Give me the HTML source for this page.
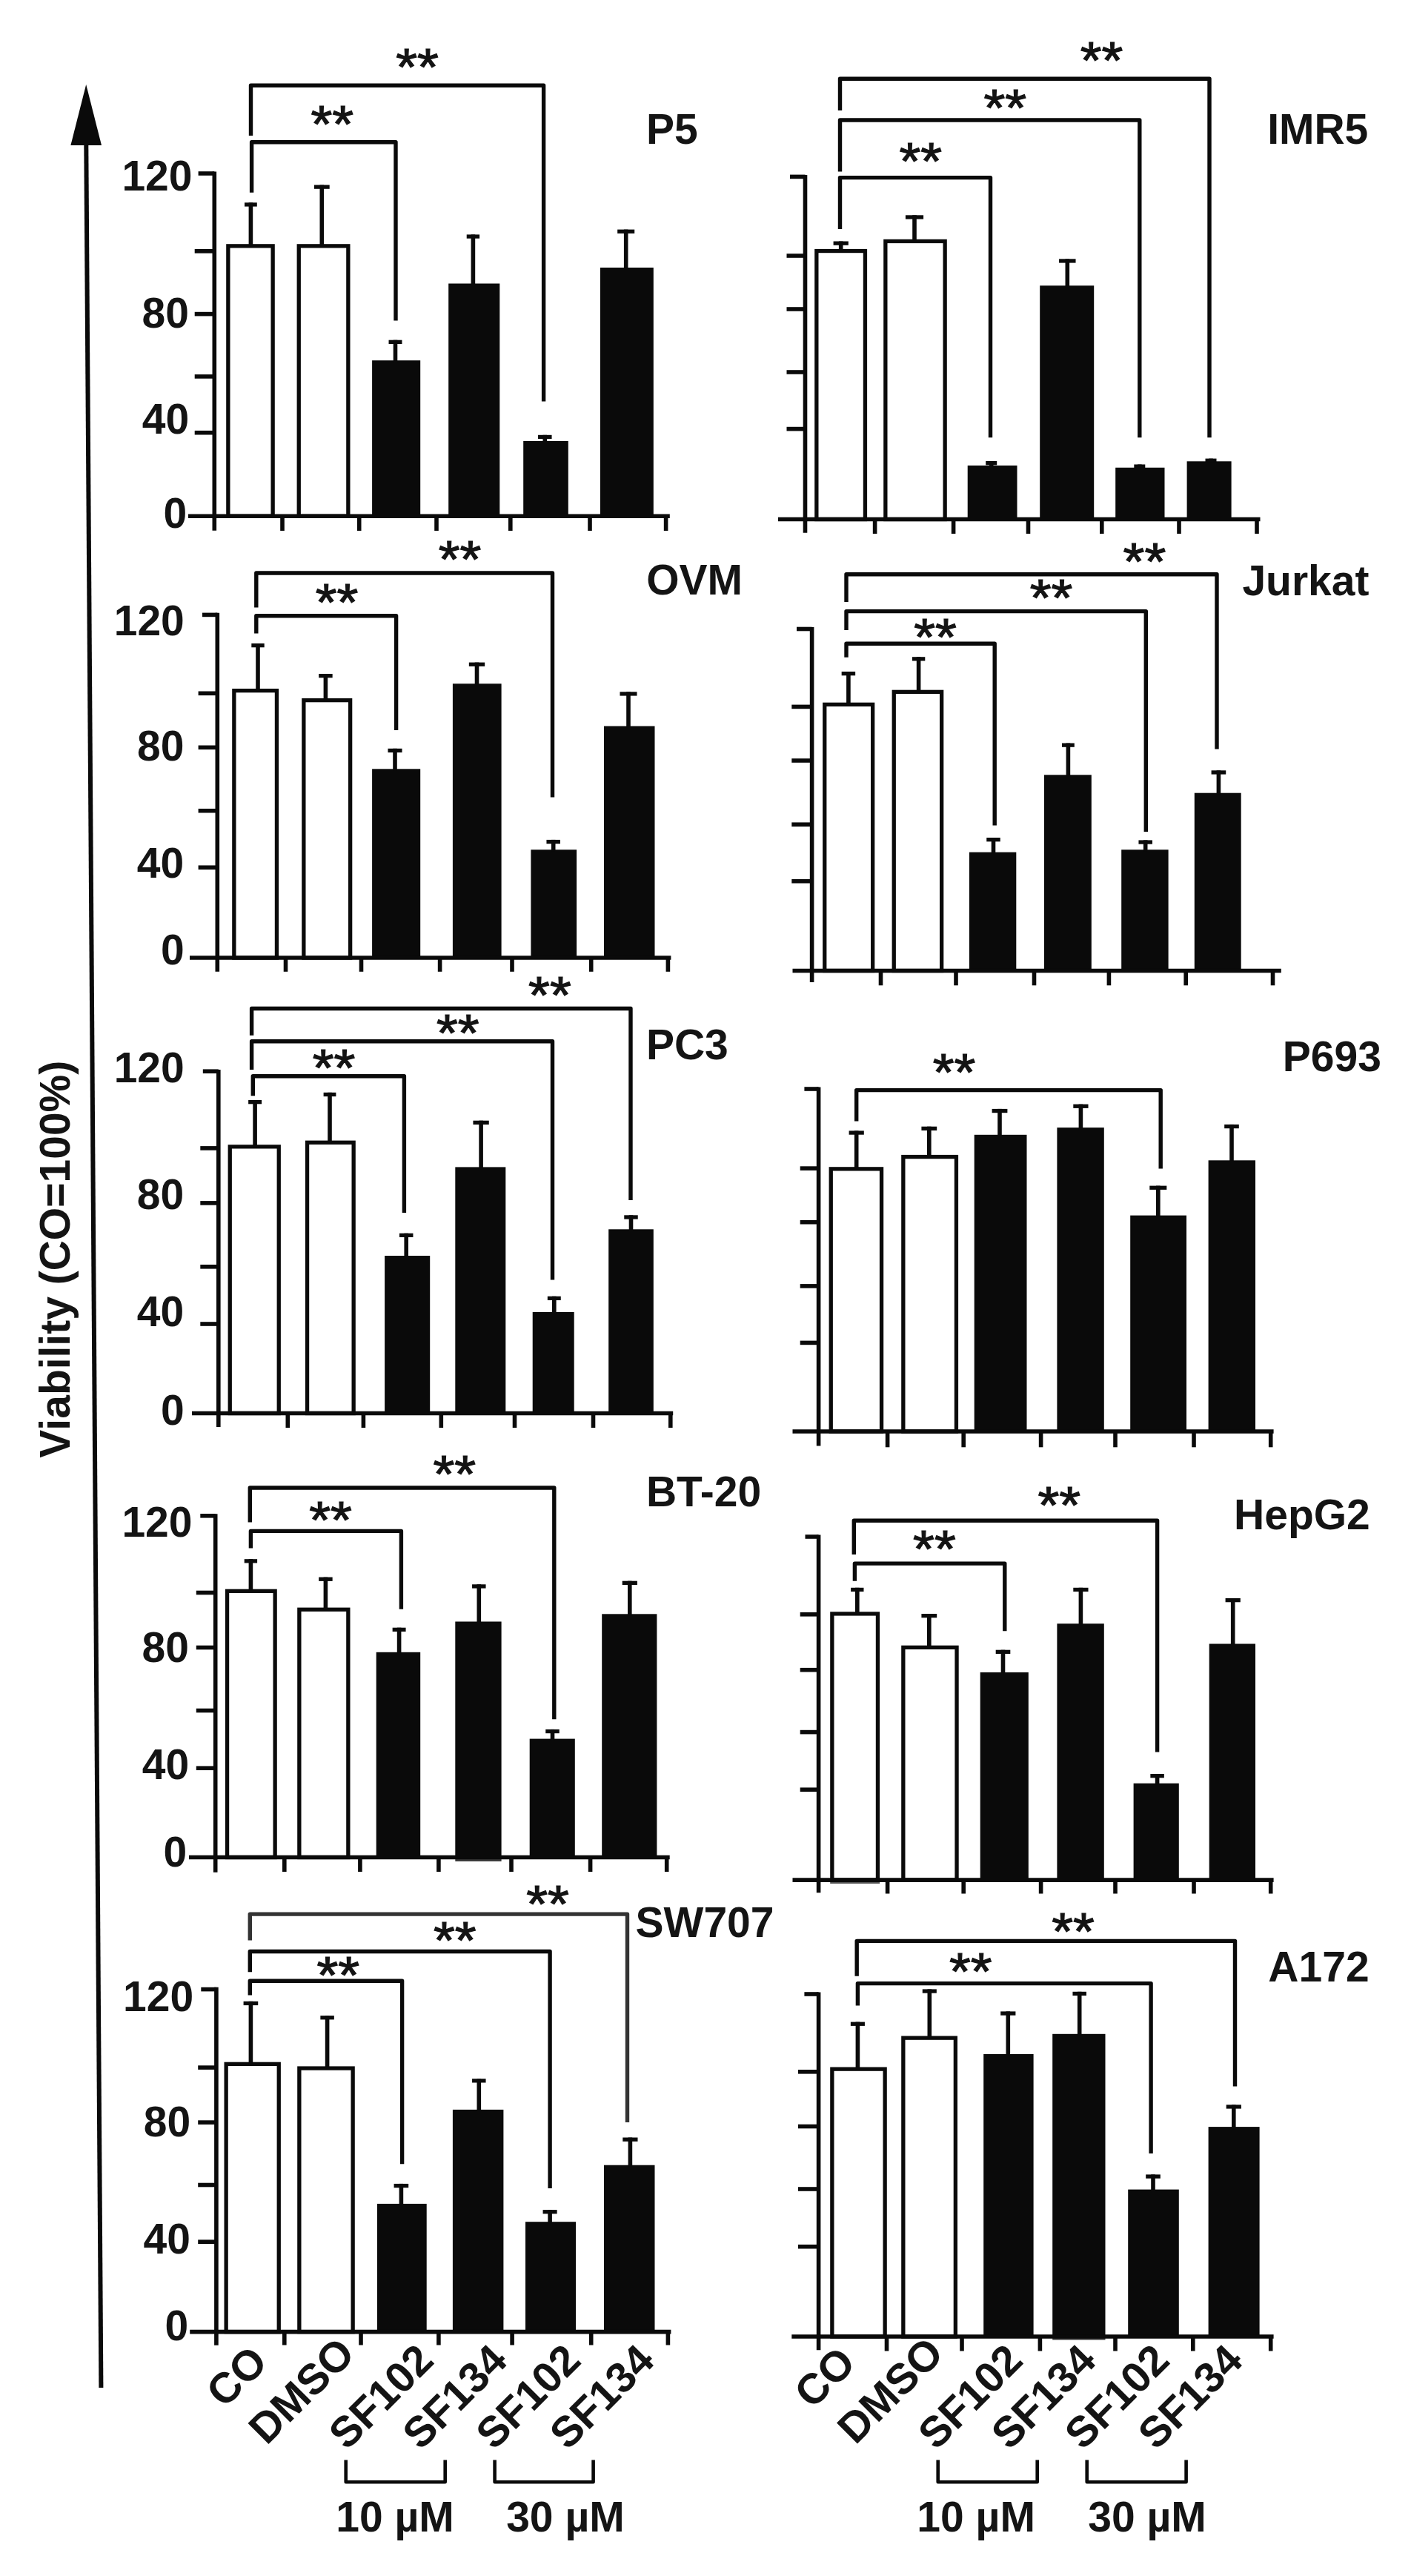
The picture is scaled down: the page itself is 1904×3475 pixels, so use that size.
<!DOCTYPE html>
<html lang="en"><head><meta charset="utf-8"><title>Viability (CO=100%)</title>
<style>
html,body{margin:0;padding:0;background:#fff}
svg{display:block}
.st{font-size:74px;font-weight:400 !important;stroke:#141414;stroke-width:1.3px}
text{font-family:"Liberation Sans",sans-serif;font-weight:700;fill:#141414}
</style></head><body>
<svg width="1904" height="3475" viewBox="0 0 1904 3475">
<rect width="1904" height="3475" fill="#fff"/>
<!-- P5 -->
<rect x="307.85" y="331.85" width="60.3" height="364.45" fill="#fff" stroke="#0a0a0a" stroke-width="5.3"/>
<rect x="403.25" y="331.85" width="66.6" height="364.45" fill="#fff" stroke="#0a0a0a" stroke-width="5.3"/>
<rect x="502.1" y="486.2" width="65.1" height="210.1" fill="#0a0a0a"/>
<rect x="605.2" y="382.5" width="69.1" height="313.8" fill="#0a0a0a"/>
<rect x="706.2" y="595" width="60.6" height="101.3" fill="#0a0a0a"/>
<rect x="809.9" y="361" width="71.9" height="335.3" fill="#0a0a0a"/>
<line x1="338.4" y1="273.3" x2="338.4" y2="333" stroke="#0a0a0a" stroke-width="5.6" stroke-linecap="butt"/>
<line x1="330" y1="275.95" x2="346.8" y2="275.95" stroke="#0a0a0a" stroke-width="5.3" stroke-linecap="butt"/>
<line x1="434.3" y1="249.5" x2="434.3" y2="333" stroke="#0a0a0a" stroke-width="5.6" stroke-linecap="butt"/>
<line x1="423.91" y1="252.15" x2="444.69" y2="252.15" stroke="#0a0a0a" stroke-width="5.3" stroke-linecap="butt"/>
<line x1="533.5" y1="458.7" x2="533.5" y2="488.2" stroke="#0a0a0a" stroke-width="5.6" stroke-linecap="butt"/>
<line x1="524.53" y1="461.35" x2="542.47" y2="461.35" stroke="#0a0a0a" stroke-width="5.3" stroke-linecap="butt"/>
<line x1="638.4" y1="316.4" x2="638.4" y2="384.5" stroke="#0a0a0a" stroke-width="5.6" stroke-linecap="butt"/>
<line x1="629.71" y1="319.05" x2="647.09" y2="319.05" stroke="#0a0a0a" stroke-width="5.3" stroke-linecap="butt"/>
<line x1="735.3" y1="586.8" x2="735.3" y2="597" stroke="#0a0a0a" stroke-width="5.6" stroke-linecap="butt"/>
<line x1="726.05" y1="589.45" x2="744.55" y2="589.45" stroke="#0a0a0a" stroke-width="5.3" stroke-linecap="butt"/>
<line x1="844.7" y1="309.6" x2="844.7" y2="363" stroke="#0a0a0a" stroke-width="5.6" stroke-linecap="butt"/>
<line x1="833.18" y1="312.25" x2="856.22" y2="312.25" stroke="#0a0a0a" stroke-width="5.3" stroke-linecap="butt"/>
<line x1="289.3" y1="231.5" x2="289.3" y2="715.8" stroke="#0a0a0a" stroke-width="5.6" stroke-linecap="butt"/>
<line x1="254" y1="696.3" x2="903.8" y2="696.3" stroke="#0a0a0a" stroke-width="5.6" stroke-linecap="butt"/>
<line x1="267.6" y1="234" x2="289.3" y2="234" stroke="#0a0a0a" stroke-width="5.6" stroke-linecap="butt"/>
<line x1="262.7" y1="338.8" x2="289.3" y2="338.8" stroke="#0a0a0a" stroke-width="5.6" stroke-linecap="butt"/>
<line x1="262.7" y1="423.6" x2="289.3" y2="423.6" stroke="#0a0a0a" stroke-width="5.6" stroke-linecap="butt"/>
<line x1="262.7" y1="507.9" x2="289.3" y2="507.9" stroke="#0a0a0a" stroke-width="5.6" stroke-linecap="butt"/>
<line x1="262.7" y1="583.7" x2="289.3" y2="583.7" stroke="#0a0a0a" stroke-width="5.6" stroke-linecap="butt"/>
<line x1="381" y1="696.3" x2="381" y2="716" stroke="#0a0a0a" stroke-width="5.6" stroke-linecap="butt"/>
<line x1="484.7" y1="696.3" x2="484.7" y2="716" stroke="#0a0a0a" stroke-width="5.6" stroke-linecap="butt"/>
<line x1="589" y1="696.3" x2="589" y2="716" stroke="#0a0a0a" stroke-width="5.6" stroke-linecap="butt"/>
<line x1="688.8" y1="696.3" x2="688.8" y2="716" stroke="#0a0a0a" stroke-width="5.6" stroke-linecap="butt"/>
<line x1="796" y1="696.3" x2="796" y2="716" stroke="#0a0a0a" stroke-width="5.6" stroke-linecap="butt"/>
<line x1="898.6" y1="696.3" x2="898.6" y2="716" stroke="#0a0a0a" stroke-width="5.6" stroke-linecap="butt"/>
<polyline points="338.5,183.1 338.5,115.3 733.6,115.3 733.6,541.4" fill="none" stroke="#0a0a0a" stroke-width="5.4" stroke-linejoin="round"/>
<polyline points="339.6,259.7 339.6,191.8 534,191.8 534,432.6" fill="none" stroke="#0a0a0a" stroke-width="5.4" stroke-linejoin="round"/>
<text transform="translate(534.3,79.7) scale(1,0.94) translate(0,37.75)" class="st">**</text>
<text transform="translate(419.5,156.7) scale(1,0.94) translate(0,37.75)" class="st">**</text>
<text x="872.05" y="193.65" font-size="57">P5</text>
<text x="164.4" y="256.6" font-size="57">120</text>
<text x="191.5" y="442.1" font-size="57">80</text>
<text x="191.8" y="584.75" font-size="57">40</text>
<text x="220.6" y="712" font-size="57">0</text>
<!-- IMR5 -->
<rect x="1101.85" y="338.55" width="65.6" height="361.95" fill="#fff" stroke="#0a0a0a" stroke-width="5.3"/>
<rect x="1194.85" y="325.45" width="80.3" height="375.05" fill="#fff" stroke="#0a0a0a" stroke-width="5.3"/>
<rect x="1305.7" y="628" width="66.8" height="72.5" fill="#0a0a0a"/>
<rect x="1403.2" y="385.3" width="73" height="315.2" fill="#0a0a0a"/>
<rect x="1505.2" y="630.8" width="66.3" height="69.7" fill="#0a0a0a"/>
<rect x="1601.6" y="622.3" width="60" height="78.2" fill="#0a0a0a"/>
<line x1="1134.7" y1="325.5" x2="1134.7" y2="339.7" stroke="#0a0a0a" stroke-width="5.6" stroke-linecap="butt"/>
<line x1="1124.59" y1="328.15" x2="1144.81" y2="328.15" stroke="#0a0a0a" stroke-width="5.3" stroke-linecap="butt"/>
<line x1="1234" y1="290.3" x2="1234" y2="326.6" stroke="#0a0a0a" stroke-width="5.6" stroke-linecap="butt"/>
<line x1="1221.91" y1="292.95" x2="1246.09" y2="292.95" stroke="#0a0a0a" stroke-width="5.3" stroke-linecap="butt"/>
<line x1="1337.7" y1="622" x2="1337.7" y2="630" stroke="#0a0a0a" stroke-width="5.6" stroke-linecap="butt"/>
<line x1="1330.2" y1="624.65" x2="1345.2" y2="624.65" stroke="#0a0a0a" stroke-width="5.3" stroke-linecap="butt"/>
<line x1="1440.3" y1="349.3" x2="1440.3" y2="387.3" stroke="#0a0a0a" stroke-width="5.6" stroke-linecap="butt"/>
<line x1="1429.06" y1="351.95" x2="1451.54" y2="351.95" stroke="#0a0a0a" stroke-width="5.3" stroke-linecap="butt"/>
<line x1="1537.8" y1="626.5" x2="1537.8" y2="632.8" stroke="#0a0a0a" stroke-width="5.6" stroke-linecap="butt"/>
<line x1="1530.3" y1="629.15" x2="1545.3" y2="629.15" stroke="#0a0a0a" stroke-width="5.3" stroke-linecap="butt"/>
<line x1="1634" y1="618.6" x2="1634" y2="624.3" stroke="#0a0a0a" stroke-width="5.6" stroke-linecap="butt"/>
<line x1="1626.5" y1="621.25" x2="1641.5" y2="621.25" stroke="#0a0a0a" stroke-width="5.3" stroke-linecap="butt"/>
<line x1="1086.5" y1="236" x2="1086.5" y2="718.8" stroke="#0a0a0a" stroke-width="5.6" stroke-linecap="butt"/>
<line x1="1050" y1="700.5" x2="1700.5" y2="700.5" stroke="#0a0a0a" stroke-width="5.6" stroke-linecap="butt"/>
<line x1="1066" y1="238.4" x2="1086.5" y2="238.4" stroke="#0a0a0a" stroke-width="5.6" stroke-linecap="butt"/>
<line x1="1061.5" y1="345" x2="1086.5" y2="345" stroke="#0a0a0a" stroke-width="5.6" stroke-linecap="butt"/>
<line x1="1061.5" y1="417" x2="1086.5" y2="417" stroke="#0a0a0a" stroke-width="5.6" stroke-linecap="butt"/>
<line x1="1061.5" y1="502" x2="1086.5" y2="502" stroke="#0a0a0a" stroke-width="5.6" stroke-linecap="butt"/>
<line x1="1061.5" y1="578.6" x2="1086.5" y2="578.6" stroke="#0a0a0a" stroke-width="5.6" stroke-linecap="butt"/>
<line x1="1180.6" y1="700.5" x2="1180.6" y2="720" stroke="#0a0a0a" stroke-width="5.6" stroke-linecap="butt"/>
<line x1="1286.6" y1="700.5" x2="1286.6" y2="720" stroke="#0a0a0a" stroke-width="5.6" stroke-linecap="butt"/>
<line x1="1387.5" y1="700.5" x2="1387.5" y2="720" stroke="#0a0a0a" stroke-width="5.6" stroke-linecap="butt"/>
<line x1="1486.8" y1="700.5" x2="1486.8" y2="720" stroke="#0a0a0a" stroke-width="5.6" stroke-linecap="butt"/>
<line x1="1591" y1="700.5" x2="1591" y2="720" stroke="#0a0a0a" stroke-width="5.6" stroke-linecap="butt"/>
<line x1="1696" y1="700.5" x2="1696" y2="720" stroke="#0a0a0a" stroke-width="5.6" stroke-linecap="butt"/>
<polyline points="1133.5,149.1 1133.5,106.3 1632,106.3 1632,590.2" fill="none" stroke="#0a0a0a" stroke-width="5.4" stroke-linejoin="round"/>
<polyline points="1133.5,231.4 1133.5,162 1537.8,162 1537.8,590.2" fill="none" stroke="#0a0a0a" stroke-width="5.4" stroke-linejoin="round"/>
<polyline points="1133.5,309 1133.5,239.6 1336.5,239.6 1336.5,590.2" fill="none" stroke="#0a0a0a" stroke-width="5.4" stroke-linejoin="round"/>
<text transform="translate(1457.8,71) scale(1,0.94) translate(0,37.75)" class="st">**</text>
<text transform="translate(1327.4,134.4) scale(1,0.94) translate(0,37.75)" class="st">**</text>
<text transform="translate(1213.4,206.4) scale(1,0.94) translate(0,37.75)" class="st">**</text>
<text x="1710.15" y="193.8" font-size="57">IMR5</text>
<!-- OVM -->
<rect x="315.85" y="931.65" width="57.6" height="360.35" fill="#fff" stroke="#0a0a0a" stroke-width="5.3"/>
<rect x="409.85" y="944.65" width="62.8" height="347.35" fill="#fff" stroke="#0a0a0a" stroke-width="5.3"/>
<rect x="502.1" y="1037.3" width="65.1" height="254.7" fill="#0a0a0a"/>
<rect x="610.9" y="922.3" width="65.7" height="369.7" fill="#0a0a0a"/>
<rect x="716.4" y="1146.2" width="61.7" height="145.8" fill="#0a0a0a"/>
<rect x="815" y="979.5" width="68.5" height="312.5" fill="#0a0a0a"/>
<line x1="348" y1="868" x2="348" y2="932.8" stroke="#0a0a0a" stroke-width="5.6" stroke-linecap="butt"/>
<line x1="339.31" y1="870.65" x2="356.69" y2="870.65" stroke="#0a0a0a" stroke-width="5.3" stroke-linecap="butt"/>
<line x1="439.4" y1="909" x2="439.4" y2="945.8" stroke="#0a0a0a" stroke-width="5.6" stroke-linecap="butt"/>
<line x1="430.15" y1="911.65" x2="448.65" y2="911.65" stroke="#0a0a0a" stroke-width="5.3" stroke-linecap="butt"/>
<line x1="533" y1="1009.8" x2="533" y2="1039.3" stroke="#0a0a0a" stroke-width="5.6" stroke-linecap="butt"/>
<line x1="523.46" y1="1012.45" x2="542.54" y2="1012.45" stroke="#0a0a0a" stroke-width="5.3" stroke-linecap="butt"/>
<line x1="643.5" y1="893.6" x2="643.5" y2="924.3" stroke="#0a0a0a" stroke-width="5.6" stroke-linecap="butt"/>
<line x1="632.83" y1="896.25" x2="654.17" y2="896.25" stroke="#0a0a0a" stroke-width="5.3" stroke-linecap="butt"/>
<line x1="746.7" y1="1132.9" x2="746.7" y2="1148.2" stroke="#0a0a0a" stroke-width="5.6" stroke-linecap="butt"/>
<line x1="737.45" y1="1135.55" x2="755.95" y2="1135.55" stroke="#0a0a0a" stroke-width="5.3" stroke-linecap="butt"/>
<line x1="848" y1="933.3" x2="848" y2="981.5" stroke="#0a0a0a" stroke-width="5.6" stroke-linecap="butt"/>
<line x1="836.48" y1="935.95" x2="859.52" y2="935.95" stroke="#0a0a0a" stroke-width="5.3" stroke-linecap="butt"/>
<line x1="293.3" y1="826.7" x2="293.3" y2="1310.8" stroke="#0a0a0a" stroke-width="5.6" stroke-linecap="butt"/>
<line x1="256" y1="1292" x2="905.4" y2="1292" stroke="#0a0a0a" stroke-width="5.6" stroke-linecap="butt"/>
<line x1="273" y1="829.4" x2="293.3" y2="829.4" stroke="#0a0a0a" stroke-width="5.6" stroke-linecap="butt"/>
<line x1="267.6" y1="935.3" x2="293.3" y2="935.3" stroke="#0a0a0a" stroke-width="5.6" stroke-linecap="butt"/>
<line x1="267.6" y1="1008.3" x2="293.3" y2="1008.3" stroke="#0a0a0a" stroke-width="5.6" stroke-linecap="butt"/>
<line x1="267.6" y1="1093.7" x2="293.3" y2="1093.7" stroke="#0a0a0a" stroke-width="5.6" stroke-linecap="butt"/>
<line x1="267.6" y1="1170.2" x2="293.3" y2="1170.2" stroke="#0a0a0a" stroke-width="5.6" stroke-linecap="butt"/>
<line x1="385.5" y1="1292" x2="385.5" y2="1310.8" stroke="#0a0a0a" stroke-width="5.6" stroke-linecap="butt"/>
<line x1="487.5" y1="1292" x2="487.5" y2="1310.8" stroke="#0a0a0a" stroke-width="5.6" stroke-linecap="butt"/>
<line x1="593.6" y1="1292" x2="593.6" y2="1310.8" stroke="#0a0a0a" stroke-width="5.6" stroke-linecap="butt"/>
<line x1="691" y1="1292" x2="691" y2="1310.8" stroke="#0a0a0a" stroke-width="5.6" stroke-linecap="butt"/>
<line x1="797.7" y1="1292" x2="797.7" y2="1310.8" stroke="#0a0a0a" stroke-width="5.6" stroke-linecap="butt"/>
<line x1="901.4" y1="1292" x2="901.4" y2="1310.8" stroke="#0a0a0a" stroke-width="5.6" stroke-linecap="butt"/>
<polyline points="345.8,819.4 345.8,773 745.5,773 745.5,1075.6" fill="none" stroke="#0a0a0a" stroke-width="5.4" stroke-linejoin="round"/>
<polyline points="345.8,854.4 345.8,830.8 534.6,830.8 534.6,984.9" fill="none" stroke="#0a0a0a" stroke-width="5.4" stroke-linejoin="round"/>
<text transform="translate(591.8,743.4) scale(1,0.94) translate(0,37.75)" class="st">**</text>
<text transform="translate(425.7,801.2) scale(1,0.94) translate(0,37.75)" class="st">**</text>
<text x="872.15" y="801.85" font-size="57">OVM</text>
<text x="153.7" y="856.6" font-size="57">120</text>
<text x="185.1" y="1025.6" font-size="57">80</text>
<text x="184.8" y="1183.6" font-size="57">40</text>
<text x="217.05" y="1301.25" font-size="57">0</text>
<!-- Jurkat -->
<rect x="1112.75" y="950.35" width="64.9" height="359.15" fill="#fff" stroke="#0a0a0a" stroke-width="5.3"/>
<rect x="1206.25" y="933.35" width="64.4" height="376.15" fill="#fff" stroke="#0a0a0a" stroke-width="5.3"/>
<rect x="1307.9" y="1149.6" width="63.4" height="159.9" fill="#0a0a0a"/>
<rect x="1408.9" y="1045.3" width="63.9" height="264.2" fill="#0a0a0a"/>
<rect x="1513.2" y="1146.2" width="63.4" height="163.3" fill="#0a0a0a"/>
<rect x="1611.8" y="1069.7" width="62.9" height="239.8" fill="#0a0a0a"/>
<line x1="1144.9" y1="906" x2="1144.9" y2="951.5" stroke="#0a0a0a" stroke-width="5.6" stroke-linecap="butt"/>
<line x1="1135.65" y1="908.65" x2="1154.15" y2="908.65" stroke="#0a0a0a" stroke-width="5.3" stroke-linecap="butt"/>
<line x1="1239.6" y1="886.2" x2="1239.6" y2="934.5" stroke="#0a0a0a" stroke-width="5.6" stroke-linecap="butt"/>
<line x1="1230.91" y1="888.85" x2="1248.29" y2="888.85" stroke="#0a0a0a" stroke-width="5.3" stroke-linecap="butt"/>
<line x1="1340.5" y1="1130" x2="1340.5" y2="1151.6" stroke="#0a0a0a" stroke-width="5.6" stroke-linecap="butt"/>
<line x1="1331.25" y1="1132.65" x2="1349.75" y2="1132.65" stroke="#0a0a0a" stroke-width="5.3" stroke-linecap="butt"/>
<line x1="1441.4" y1="1002.5" x2="1441.4" y2="1047.3" stroke="#0a0a0a" stroke-width="5.6" stroke-linecap="butt"/>
<line x1="1433" y1="1005.15" x2="1449.8" y2="1005.15" stroke="#0a0a0a" stroke-width="5.3" stroke-linecap="butt"/>
<line x1="1545.7" y1="1133.4" x2="1545.7" y2="1148.2" stroke="#0a0a0a" stroke-width="5.6" stroke-linecap="butt"/>
<line x1="1536.45" y1="1136.05" x2="1554.95" y2="1136.05" stroke="#0a0a0a" stroke-width="5.3" stroke-linecap="butt"/>
<line x1="1644.4" y1="1039.3" x2="1644.4" y2="1071.7" stroke="#0a0a0a" stroke-width="5.6" stroke-linecap="butt"/>
<line x1="1634.58" y1="1041.95" x2="1654.22" y2="1041.95" stroke="#0a0a0a" stroke-width="5.3" stroke-linecap="butt"/>
<line x1="1095.6" y1="846" x2="1095.6" y2="1325" stroke="#0a0a0a" stroke-width="5.6" stroke-linecap="butt"/>
<line x1="1069.5" y1="1309.5" x2="1728.8" y2="1309.5" stroke="#0a0a0a" stroke-width="5.6" stroke-linecap="butt"/>
<line x1="1075" y1="848.5" x2="1095.6" y2="848.5" stroke="#0a0a0a" stroke-width="5.6" stroke-linecap="butt"/>
<line x1="1068.3" y1="953.4" x2="1095.6" y2="953.4" stroke="#0a0a0a" stroke-width="5.6" stroke-linecap="butt"/>
<line x1="1068.3" y1="1026" x2="1095.6" y2="1026" stroke="#0a0a0a" stroke-width="5.6" stroke-linecap="butt"/>
<line x1="1068.3" y1="1112.2" x2="1095.6" y2="1112.2" stroke="#0a0a0a" stroke-width="5.6" stroke-linecap="butt"/>
<line x1="1068.3" y1="1188.7" x2="1095.6" y2="1188.7" stroke="#0a0a0a" stroke-width="5.6" stroke-linecap="butt"/>
<line x1="1188.5" y1="1309.5" x2="1188.5" y2="1329.3" stroke="#0a0a0a" stroke-width="5.6" stroke-linecap="butt"/>
<line x1="1290" y1="1309.5" x2="1290" y2="1329.3" stroke="#0a0a0a" stroke-width="5.6" stroke-linecap="butt"/>
<line x1="1395.5" y1="1309.5" x2="1395.5" y2="1329.3" stroke="#0a0a0a" stroke-width="5.6" stroke-linecap="butt"/>
<line x1="1496.4" y1="1309.5" x2="1496.4" y2="1329.3" stroke="#0a0a0a" stroke-width="5.6" stroke-linecap="butt"/>
<line x1="1600.2" y1="1309.5" x2="1600.2" y2="1329.3" stroke="#0a0a0a" stroke-width="5.6" stroke-linecap="butt"/>
<line x1="1717.5" y1="1309.5" x2="1717.5" y2="1329.3" stroke="#0a0a0a" stroke-width="5.6" stroke-linecap="butt"/>
<polyline points="1142,812 1142,774.7 1642,774.7 1642,1010.4" fill="none" stroke="#0a0a0a" stroke-width="5.4" stroke-linejoin="round"/>
<polyline points="1142,849.9 1142,824.6 1546.3,824.6 1546.3,1122.1" fill="none" stroke="#0a0a0a" stroke-width="5.4" stroke-linejoin="round"/>
<polyline points="1142,886.8 1142,868.3 1342.2,868.3 1342.2,1113.6" fill="none" stroke="#0a0a0a" stroke-width="5.4" stroke-linejoin="round"/>
<text transform="translate(1515.6,746.2) scale(1,0.94) translate(0,37.75)" class="st">**</text>
<text transform="translate(1389.7,796) scale(1,0.94) translate(0,37.75)" class="st">**</text>
<text transform="translate(1233.3,848.2) scale(1,0.94) translate(0,37.75)" class="st">**</text>
<text x="1676.4" y="802.65" font-size="57">Jurkat</text>
<!-- PC3 -->
<rect x="310.25" y="1546.85" width="66" height="359.65" fill="#fff" stroke="#0a0a0a" stroke-width="5.3"/>
<rect x="414.55" y="1541.25" width="62.6" height="365.25" fill="#fff" stroke="#0a0a0a" stroke-width="5.3"/>
<rect x="519.1" y="1694" width="61.1" height="212.5" fill="#0a0a0a"/>
<rect x="614.3" y="1574.4" width="68" height="332.1" fill="#0a0a0a"/>
<rect x="718.7" y="1770" width="56" height="136.5" fill="#0a0a0a"/>
<rect x="821.2" y="1658.3" width="60.6" height="248.2" fill="#0a0a0a"/>
<line x1="344.1" y1="1484" x2="344.1" y2="1548" stroke="#0a0a0a" stroke-width="5.6" stroke-linecap="butt"/>
<line x1="335.13" y1="1486.65" x2="353.07" y2="1486.65" stroke="#0a0a0a" stroke-width="5.3" stroke-linecap="butt"/>
<line x1="445" y1="1473.8" x2="445" y2="1542.4" stroke="#0a0a0a" stroke-width="5.6" stroke-linecap="butt"/>
<line x1="436.6" y1="1476.45" x2="453.4" y2="1476.45" stroke="#0a0a0a" stroke-width="5.3" stroke-linecap="butt"/>
<line x1="548.2" y1="1663.7" x2="548.2" y2="1696" stroke="#0a0a0a" stroke-width="5.6" stroke-linecap="butt"/>
<line x1="538.95" y1="1666.35" x2="557.45" y2="1666.35" stroke="#0a0a0a" stroke-width="5.3" stroke-linecap="butt"/>
<line x1="649.1" y1="1511.7" x2="649.1" y2="1576.4" stroke="#0a0a0a" stroke-width="5.6" stroke-linecap="butt"/>
<line x1="638.43" y1="1514.35" x2="659.77" y2="1514.35" stroke="#0a0a0a" stroke-width="5.3" stroke-linecap="butt"/>
<line x1="747.8" y1="1748.7" x2="747.8" y2="1772" stroke="#0a0a0a" stroke-width="5.6" stroke-linecap="butt"/>
<line x1="738.83" y1="1751.35" x2="756.77" y2="1751.35" stroke="#0a0a0a" stroke-width="5.3" stroke-linecap="butt"/>
<line x1="851.5" y1="1639.3" x2="851.5" y2="1660.3" stroke="#0a0a0a" stroke-width="5.6" stroke-linecap="butt"/>
<line x1="842.25" y1="1641.95" x2="860.75" y2="1641.95" stroke="#0a0a0a" stroke-width="5.3" stroke-linecap="butt"/>
<line x1="294.8" y1="1443" x2="294.8" y2="1925" stroke="#0a0a0a" stroke-width="5.6" stroke-linecap="butt"/>
<line x1="259" y1="1906.5" x2="908.2" y2="1906.5" stroke="#0a0a0a" stroke-width="5.6" stroke-linecap="butt"/>
<line x1="273.8" y1="1445.2" x2="294.8" y2="1445.2" stroke="#0a0a0a" stroke-width="5.6" stroke-linecap="butt"/>
<line x1="270.3" y1="1548.9" x2="294.8" y2="1548.9" stroke="#0a0a0a" stroke-width="5.6" stroke-linecap="butt"/>
<line x1="270.3" y1="1622.9" x2="294.8" y2="1622.9" stroke="#0a0a0a" stroke-width="5.6" stroke-linecap="butt"/>
<line x1="270.3" y1="1708.8" x2="294.8" y2="1708.8" stroke="#0a0a0a" stroke-width="5.6" stroke-linecap="butt"/>
<line x1="270.3" y1="1786" x2="294.8" y2="1786" stroke="#0a0a0a" stroke-width="5.6" stroke-linecap="butt"/>
<line x1="388.3" y1="1906.5" x2="388.3" y2="1926.1" stroke="#0a0a0a" stroke-width="5.6" stroke-linecap="butt"/>
<line x1="490.4" y1="1906.5" x2="490.4" y2="1926.1" stroke="#0a0a0a" stroke-width="5.6" stroke-linecap="butt"/>
<line x1="595.3" y1="1906.5" x2="595.3" y2="1926.1" stroke="#0a0a0a" stroke-width="5.6" stroke-linecap="butt"/>
<line x1="694.5" y1="1906.5" x2="694.5" y2="1926.1" stroke="#0a0a0a" stroke-width="5.6" stroke-linecap="butt"/>
<line x1="800.5" y1="1906.5" x2="800.5" y2="1926.1" stroke="#0a0a0a" stroke-width="5.6" stroke-linecap="butt"/>
<line x1="904.8" y1="1906.5" x2="904.8" y2="1926.1" stroke="#0a0a0a" stroke-width="5.6" stroke-linecap="butt"/>
<polyline points="339.6,1396.7 339.6,1360.5 851,1360.5 851,1618.9" fill="none" stroke="#0a0a0a" stroke-width="5.4" stroke-linejoin="round"/>
<polyline points="339.6,1443.1 339.6,1404.8 745.5,1404.8 745.5,1726.6" fill="none" stroke="#0a0a0a" stroke-width="5.4" stroke-linejoin="round"/>
<polyline points="341.3,1478.3 341.3,1451.8 545.4,1451.8 545.4,1635.9" fill="none" stroke="#0a0a0a" stroke-width="5.4" stroke-linejoin="round"/>
<text transform="translate(713.1,1332) scale(1,0.94) translate(0,37.75)" class="st">**</text>
<text transform="translate(589,1383) scale(1,0.94) translate(0,37.75)" class="st">**</text>
<text transform="translate(421.7,1429.5) scale(1,0.94) translate(0,37.75)" class="st">**</text>
<text x="871.95" y="1428.6" font-size="57">PC3</text>
<text x="153.65" y="1460.3" font-size="57">120</text>
<text x="184.75" y="1631.15" font-size="57">80</text>
<text x="184.8" y="1789.15" font-size="57">40</text>
<text x="217.05" y="1922.4" font-size="57">0</text>
<!-- P693 -->
<rect x="1121.25" y="1576.85" width="68.3" height="354.15" fill="#fff" stroke="#0a0a0a" stroke-width="5.3"/>
<rect x="1218.85" y="1560.55" width="71.6" height="370.45" fill="#fff" stroke="#0a0a0a" stroke-width="5.3"/>
<rect x="1314.7" y="1530.8" width="70.8" height="400.2" fill="#0a0a0a"/>
<rect x="1426.4" y="1521.1" width="63.4" height="409.9" fill="#0a0a0a"/>
<rect x="1525.2" y="1639.6" width="75.8" height="291.4" fill="#0a0a0a"/>
<rect x="1630.6" y="1565.3" width="63.4" height="365.7" fill="#0a0a0a"/>
<line x1="1155.7" y1="1525.4" x2="1155.7" y2="1578" stroke="#0a0a0a" stroke-width="5.6" stroke-linecap="butt"/>
<line x1="1145.59" y1="1528.05" x2="1165.81" y2="1528.05" stroke="#0a0a0a" stroke-width="5.3" stroke-linecap="butt"/>
<line x1="1253.8" y1="1519.7" x2="1253.8" y2="1561.7" stroke="#0a0a0a" stroke-width="5.6" stroke-linecap="butt"/>
<line x1="1243.41" y1="1522.35" x2="1264.19" y2="1522.35" stroke="#0a0a0a" stroke-width="5.3" stroke-linecap="butt"/>
<line x1="1349" y1="1495.9" x2="1349" y2="1532.8" stroke="#0a0a0a" stroke-width="5.6" stroke-linecap="butt"/>
<line x1="1338.61" y1="1498.55" x2="1359.39" y2="1498.55" stroke="#0a0a0a" stroke-width="5.3" stroke-linecap="butt"/>
<line x1="1458.4" y1="1489.6" x2="1458.4" y2="1523.1" stroke="#0a0a0a" stroke-width="5.6" stroke-linecap="butt"/>
<line x1="1448.29" y1="1492.25" x2="1468.51" y2="1492.25" stroke="#0a0a0a" stroke-width="5.3" stroke-linecap="butt"/>
<line x1="1562.8" y1="1599.6" x2="1562.8" y2="1641.6" stroke="#0a0a0a" stroke-width="5.6" stroke-linecap="butt"/>
<line x1="1551.28" y1="1602.25" x2="1574.32" y2="1602.25" stroke="#0a0a0a" stroke-width="5.3" stroke-linecap="butt"/>
<line x1="1662" y1="1516.9" x2="1662" y2="1567.3" stroke="#0a0a0a" stroke-width="5.6" stroke-linecap="butt"/>
<line x1="1652.18" y1="1519.55" x2="1671.82" y2="1519.55" stroke="#0a0a0a" stroke-width="5.3" stroke-linecap="butt"/>
<line x1="1104.6" y1="1466.5" x2="1104.6" y2="1950.5" stroke="#0a0a0a" stroke-width="5.6" stroke-linecap="butt"/>
<line x1="1069.5" y1="1931" x2="1718.6" y2="1931" stroke="#0a0a0a" stroke-width="5.6" stroke-linecap="butt"/>
<line x1="1085.4" y1="1469" x2="1104.6" y2="1469" stroke="#0a0a0a" stroke-width="5.6" stroke-linecap="butt"/>
<line x1="1079.7" y1="1576.1" x2="1104.6" y2="1576.1" stroke="#0a0a0a" stroke-width="5.6" stroke-linecap="butt"/>
<line x1="1079.7" y1="1648.7" x2="1104.6" y2="1648.7" stroke="#0a0a0a" stroke-width="5.6" stroke-linecap="butt"/>
<line x1="1079.7" y1="1734.9" x2="1104.6" y2="1734.9" stroke="#0a0a0a" stroke-width="5.6" stroke-linecap="butt"/>
<line x1="1079.7" y1="1811.4" x2="1104.6" y2="1811.4" stroke="#0a0a0a" stroke-width="5.6" stroke-linecap="butt"/>
<line x1="1197.6" y1="1931" x2="1197.6" y2="1952.3" stroke="#0a0a0a" stroke-width="5.6" stroke-linecap="butt"/>
<line x1="1300.2" y1="1931" x2="1300.2" y2="1952.3" stroke="#0a0a0a" stroke-width="5.6" stroke-linecap="butt"/>
<line x1="1404.6" y1="1931" x2="1404.6" y2="1952.3" stroke="#0a0a0a" stroke-width="5.6" stroke-linecap="butt"/>
<line x1="1505" y1="1931" x2="1505" y2="1952.3" stroke="#0a0a0a" stroke-width="5.6" stroke-linecap="butt"/>
<line x1="1611" y1="1931" x2="1611" y2="1952.3" stroke="#0a0a0a" stroke-width="5.6" stroke-linecap="butt"/>
<line x1="1714.7" y1="1931" x2="1714.7" y2="1952.3" stroke="#0a0a0a" stroke-width="5.6" stroke-linecap="butt"/>
<polyline points="1155.7,1512.4 1155.7,1470.6 1566.2,1470.6 1566.2,1576.4" fill="none" stroke="#0a0a0a" stroke-width="5.4" stroke-linejoin="round"/>
<text transform="translate(1258.8,1436) scale(1,0.94) translate(0,37.75)" class="st">**</text>
<text x="1730.8" y="1444.9" font-size="57">P693</text>
<!-- BT-20 -->
<rect x="306.55" y="2146.35" width="64.6" height="359.15" fill="#fff" stroke="#0a0a0a" stroke-width="5.3"/>
<rect x="403.85" y="2171.25" width="66" height="334.25" fill="#fff" stroke="#0a0a0a" stroke-width="5.3"/>
<rect x="507.7" y="2228.8" width="59.5" height="276.7" fill="#0a0a0a"/>
<rect x="614.3" y="2187.5" width="62.3" height="318" fill="#0a0a0a"/>
<rect x="614.3" y="2505.5" width="62.3" height="5.5" fill="#3a3a3a"/>
<rect x="714.7" y="2345.6" width="61.1" height="159.9" fill="#0a0a0a"/>
<rect x="812.2" y="2177.3" width="74.2" height="328.2" fill="#0a0a0a"/>
<line x1="338.4" y1="2103.2" x2="338.4" y2="2147.5" stroke="#0a0a0a" stroke-width="5.6" stroke-linecap="butt"/>
<line x1="329.71" y1="2105.85" x2="347.09" y2="2105.85" stroke="#0a0a0a" stroke-width="5.3" stroke-linecap="butt"/>
<line x1="439.4" y1="2127.6" x2="439.4" y2="2172.4" stroke="#0a0a0a" stroke-width="5.6" stroke-linecap="butt"/>
<line x1="430.15" y1="2130.25" x2="448.65" y2="2130.25" stroke="#0a0a0a" stroke-width="5.3" stroke-linecap="butt"/>
<line x1="538.6" y1="2195.7" x2="538.6" y2="2230.8" stroke="#0a0a0a" stroke-width="5.6" stroke-linecap="butt"/>
<line x1="529.63" y1="2198.35" x2="547.57" y2="2198.35" stroke="#0a0a0a" stroke-width="5.3" stroke-linecap="butt"/>
<line x1="646.3" y1="2137.3" x2="646.3" y2="2189.5" stroke="#0a0a0a" stroke-width="5.6" stroke-linecap="butt"/>
<line x1="637.05" y1="2139.95" x2="655.55" y2="2139.95" stroke="#0a0a0a" stroke-width="5.3" stroke-linecap="butt"/>
<line x1="745.5" y1="2332.9" x2="745.5" y2="2347.6" stroke="#0a0a0a" stroke-width="5.6" stroke-linecap="butt"/>
<line x1="736.25" y1="2335.55" x2="754.75" y2="2335.55" stroke="#0a0a0a" stroke-width="5.3" stroke-linecap="butt"/>
<line x1="849.8" y1="2132.7" x2="849.8" y2="2179.3" stroke="#0a0a0a" stroke-width="5.6" stroke-linecap="butt"/>
<line x1="839.69" y1="2135.35" x2="859.91" y2="2135.35" stroke="#0a0a0a" stroke-width="5.3" stroke-linecap="butt"/>
<line x1="290.7" y1="2042.2" x2="290.7" y2="2525.7" stroke="#0a0a0a" stroke-width="5.6" stroke-linecap="butt"/>
<line x1="255" y1="2505.5" x2="903.7" y2="2505.5" stroke="#0a0a0a" stroke-width="5.6" stroke-linecap="butt"/>
<line x1="270.3" y1="2044.8" x2="290.7" y2="2044.8" stroke="#0a0a0a" stroke-width="5.6" stroke-linecap="butt"/>
<line x1="264.8" y1="2148.5" x2="290.7" y2="2148.5" stroke="#0a0a0a" stroke-width="5.6" stroke-linecap="butt"/>
<line x1="264.8" y1="2222.5" x2="290.7" y2="2222.5" stroke="#0a0a0a" stroke-width="5.6" stroke-linecap="butt"/>
<line x1="264.8" y1="2307.5" x2="290.7" y2="2307.5" stroke="#0a0a0a" stroke-width="5.6" stroke-linecap="butt"/>
<line x1="264.8" y1="2385.2" x2="290.7" y2="2385.2" stroke="#0a0a0a" stroke-width="5.6" stroke-linecap="butt"/>
<line x1="383.8" y1="2505.5" x2="383.8" y2="2525" stroke="#0a0a0a" stroke-width="5.6" stroke-linecap="butt"/>
<line x1="485.9" y1="2505.5" x2="485.9" y2="2525" stroke="#0a0a0a" stroke-width="5.6" stroke-linecap="butt"/>
<line x1="591.9" y1="2505.5" x2="591.9" y2="2525" stroke="#0a0a0a" stroke-width="5.6" stroke-linecap="butt"/>
<line x1="690" y1="2505.5" x2="690" y2="2525" stroke="#0a0a0a" stroke-width="5.6" stroke-linecap="butt"/>
<line x1="796.6" y1="2505.5" x2="796.6" y2="2525" stroke="#0a0a0a" stroke-width="5.6" stroke-linecap="butt"/>
<line x1="899.7" y1="2505.5" x2="899.7" y2="2525" stroke="#0a0a0a" stroke-width="5.6" stroke-linecap="butt"/>
<polyline points="337.3,2053.4 337.3,2007 747.8,2007 747.8,2319.3" fill="none" stroke="#0a0a0a" stroke-width="5.4" stroke-linejoin="round"/>
<polyline points="338.4,2088.5 338.4,2065.4 541.4,2065.4 541.4,2170.7" fill="none" stroke="#0a0a0a" stroke-width="5.4" stroke-linejoin="round"/>
<text transform="translate(584.4,1977.4) scale(1,0.94) translate(0,37.75)" class="st">**</text>
<text transform="translate(417.2,2039.7) scale(1,0.94) translate(0,37.75)" class="st">**</text>
<text x="871.95" y="2031.5" font-size="57">BT-20</text>
<text x="164.4" y="2072.75" font-size="57">120</text>
<text x="191.5" y="2242.4" font-size="57">80</text>
<text x="191.8" y="2400.25" font-size="57">40</text>
<text x="220.6" y="2517.5" font-size="57">0</text>
<!-- HepG2 -->
<rect x="1122.85" y="2176.95" width="61.6" height="359.15" fill="#fff" stroke="#0a0a0a" stroke-width="5.3"/>
<rect x="1120.2" y="2536.1" width="66.9" height="4.9" fill="#555"/>
<rect x="1218.85" y="2222.35" width="72.2" height="313.75" fill="#fff" stroke="#0a0a0a" stroke-width="5.3"/>
<rect x="1322.7" y="2256" width="65.1" height="280.1" fill="#0a0a0a"/>
<rect x="1426.4" y="2190.3" width="63.4" height="345.8" fill="#0a0a0a"/>
<rect x="1529.6" y="2405.7" width="61.2" height="130.4" fill="#0a0a0a"/>
<rect x="1631.7" y="2217.5" width="62.3" height="318.6" fill="#0a0a0a"/>
<line x1="1156.8" y1="2141.8" x2="1156.8" y2="2178.1" stroke="#0a0a0a" stroke-width="5.6" stroke-linecap="butt"/>
<line x1="1148.11" y1="2144.45" x2="1165.49" y2="2144.45" stroke="#0a0a0a" stroke-width="5.3" stroke-linecap="butt"/>
<line x1="1253.8" y1="2177" x2="1253.8" y2="2223.5" stroke="#0a0a0a" stroke-width="5.6" stroke-linecap="butt"/>
<line x1="1243.41" y1="2179.65" x2="1264.19" y2="2179.65" stroke="#0a0a0a" stroke-width="5.3" stroke-linecap="butt"/>
<line x1="1353.5" y1="2225.7" x2="1353.5" y2="2258" stroke="#0a0a0a" stroke-width="5.6" stroke-linecap="butt"/>
<line x1="1343.68" y1="2228.35" x2="1363.32" y2="2228.35" stroke="#0a0a0a" stroke-width="5.3" stroke-linecap="butt"/>
<line x1="1458.4" y1="2141.8" x2="1458.4" y2="2192.3" stroke="#0a0a0a" stroke-width="5.6" stroke-linecap="butt"/>
<line x1="1448.29" y1="2144.45" x2="1468.51" y2="2144.45" stroke="#0a0a0a" stroke-width="5.3" stroke-linecap="butt"/>
<line x1="1561.6" y1="2393" x2="1561.6" y2="2407.7" stroke="#0a0a0a" stroke-width="5.6" stroke-linecap="butt"/>
<line x1="1552.35" y1="2395.65" x2="1570.85" y2="2395.65" stroke="#0a0a0a" stroke-width="5.3" stroke-linecap="butt"/>
<line x1="1663.7" y1="2156" x2="1663.7" y2="2219.5" stroke="#0a0a0a" stroke-width="5.6" stroke-linecap="butt"/>
<line x1="1653.59" y1="2158.65" x2="1673.81" y2="2158.65" stroke="#0a0a0a" stroke-width="5.3" stroke-linecap="butt"/>
<line x1="1104.6" y1="2070.5" x2="1104.6" y2="2553.3" stroke="#0a0a0a" stroke-width="5.6" stroke-linecap="butt"/>
<line x1="1069.5" y1="2536.1" x2="1718.6" y2="2536.1" stroke="#0a0a0a" stroke-width="5.6" stroke-linecap="butt"/>
<line x1="1086.5" y1="2073" x2="1104.6" y2="2073" stroke="#0a0a0a" stroke-width="5.6" stroke-linecap="butt"/>
<line x1="1079.7" y1="2177.8" x2="1104.6" y2="2177.8" stroke="#0a0a0a" stroke-width="5.6" stroke-linecap="butt"/>
<line x1="1079.7" y1="2252.7" x2="1104.6" y2="2252.7" stroke="#0a0a0a" stroke-width="5.6" stroke-linecap="butt"/>
<line x1="1079.7" y1="2336.6" x2="1104.6" y2="2336.6" stroke="#0a0a0a" stroke-width="5.6" stroke-linecap="butt"/>
<line x1="1079.7" y1="2414.2" x2="1104.6" y2="2414.2" stroke="#0a0a0a" stroke-width="5.6" stroke-linecap="butt"/>
<line x1="1197.6" y1="2536.1" x2="1197.6" y2="2554.5" stroke="#0a0a0a" stroke-width="5.6" stroke-linecap="butt"/>
<line x1="1300.2" y1="2536.1" x2="1300.2" y2="2554.5" stroke="#0a0a0a" stroke-width="5.6" stroke-linecap="butt"/>
<line x1="1404.6" y1="2536.1" x2="1404.6" y2="2554.5" stroke="#0a0a0a" stroke-width="5.6" stroke-linecap="butt"/>
<line x1="1505" y1="2536.1" x2="1505" y2="2554.5" stroke="#0a0a0a" stroke-width="5.6" stroke-linecap="butt"/>
<line x1="1611" y1="2536.1" x2="1611" y2="2554.5" stroke="#0a0a0a" stroke-width="5.6" stroke-linecap="butt"/>
<line x1="1714.7" y1="2536.1" x2="1714.7" y2="2554.5" stroke="#0a0a0a" stroke-width="5.6" stroke-linecap="butt"/>
<polyline points="1152.3,2097 1152.3,2051.2 1561.6,2051.2 1561.6,2363.5" fill="none" stroke="#0a0a0a" stroke-width="5.4" stroke-linejoin="round"/>
<polyline points="1153.4,2132.7 1153.4,2109.1 1355.8,2109.1 1355.8,2200.2" fill="none" stroke="#0a0a0a" stroke-width="5.4" stroke-linejoin="round"/>
<text transform="translate(1400.5,2019.9) scale(1,0.94) translate(0,37.75)" class="st">**</text>
<text transform="translate(1232.1,2078.3) scale(1,0.94) translate(0,37.75)" class="st">**</text>
<text x="1665.1" y="2063.35" font-size="57">HepG2</text>
<!-- SW707 -->
<rect x="305.15" y="2784.35" width="71.1" height="361.25" fill="#fff" stroke="#0a0a0a" stroke-width="5.3"/>
<rect x="403.85" y="2790.05" width="72.3" height="355.55" fill="#fff" stroke="#0a0a0a" stroke-width="5.3"/>
<rect x="508.9" y="2972.9" width="66.8" height="172.7" fill="#0a0a0a"/>
<rect x="610.9" y="2845.9" width="68.5" height="299.7" fill="#0a0a0a"/>
<rect x="709" y="2997.2" width="68" height="148.4" fill="#0a0a0a"/>
<rect x="815" y="2920.7" width="68.5" height="224.9" fill="#0a0a0a"/>
<line x1="338.4" y1="2699.8" x2="338.4" y2="2785.5" stroke="#0a0a0a" stroke-width="5.6" stroke-linecap="butt"/>
<line x1="328.58" y1="2702.45" x2="348.22" y2="2702.45" stroke="#0a0a0a" stroke-width="5.3" stroke-linecap="butt"/>
<line x1="441.6" y1="2719.1" x2="441.6" y2="2791.2" stroke="#0a0a0a" stroke-width="5.6" stroke-linecap="butt"/>
<line x1="432.35" y1="2721.75" x2="450.85" y2="2721.75" stroke="#0a0a0a" stroke-width="5.3" stroke-linecap="butt"/>
<line x1="541.4" y1="2945.9" x2="541.4" y2="2974.9" stroke="#0a0a0a" stroke-width="5.6" stroke-linecap="butt"/>
<line x1="531.58" y1="2948.55" x2="551.22" y2="2948.55" stroke="#0a0a0a" stroke-width="5.3" stroke-linecap="butt"/>
<line x1="646.3" y1="2804.2" x2="646.3" y2="2847.9" stroke="#0a0a0a" stroke-width="5.6" stroke-linecap="butt"/>
<line x1="637.05" y1="2806.85" x2="655.55" y2="2806.85" stroke="#0a0a0a" stroke-width="5.3" stroke-linecap="butt"/>
<line x1="742.1" y1="2981.1" x2="742.1" y2="2999.2" stroke="#0a0a0a" stroke-width="5.6" stroke-linecap="butt"/>
<line x1="732.56" y1="2983.75" x2="751.64" y2="2983.75" stroke="#0a0a0a" stroke-width="5.3" stroke-linecap="butt"/>
<line x1="850.4" y1="2883.5" x2="850.4" y2="2922.7" stroke="#0a0a0a" stroke-width="5.6" stroke-linecap="butt"/>
<line x1="840.29" y1="2886.15" x2="860.51" y2="2886.15" stroke="#0a0a0a" stroke-width="5.3" stroke-linecap="butt"/>
<line x1="291.9" y1="2680.7" x2="291.9" y2="3163.7" stroke="#0a0a0a" stroke-width="5.6" stroke-linecap="butt"/>
<line x1="256.2" y1="3145.6" x2="905.4" y2="3145.6" stroke="#0a0a0a" stroke-width="5.6" stroke-linecap="butt"/>
<line x1="271.3" y1="2683.6" x2="291.9" y2="2683.6" stroke="#0a0a0a" stroke-width="5.6" stroke-linecap="butt"/>
<line x1="267.2" y1="2789.1" x2="291.9" y2="2789.1" stroke="#0a0a0a" stroke-width="5.6" stroke-linecap="butt"/>
<line x1="267.2" y1="2863.1" x2="291.9" y2="2863.1" stroke="#0a0a0a" stroke-width="5.6" stroke-linecap="butt"/>
<line x1="267.2" y1="2947.5" x2="291.9" y2="2947.5" stroke="#0a0a0a" stroke-width="5.6" stroke-linecap="butt"/>
<line x1="267.2" y1="3024.2" x2="291.9" y2="3024.2" stroke="#0a0a0a" stroke-width="5.6" stroke-linecap="butt"/>
<line x1="383.8" y1="3145.6" x2="383.8" y2="3163.5" stroke="#0a0a0a" stroke-width="5.6" stroke-linecap="butt"/>
<line x1="487" y1="3145.6" x2="487" y2="3163.5" stroke="#0a0a0a" stroke-width="5.6" stroke-linecap="butt"/>
<line x1="591.9" y1="3145.6" x2="591.9" y2="3163.5" stroke="#0a0a0a" stroke-width="5.6" stroke-linecap="butt"/>
<line x1="691.1" y1="3145.6" x2="691.1" y2="3163.5" stroke="#0a0a0a" stroke-width="5.6" stroke-linecap="butt"/>
<line x1="797.7" y1="3145.6" x2="797.7" y2="3163.5" stroke="#0a0a0a" stroke-width="5.6" stroke-linecap="butt"/>
<line x1="901.4" y1="3145.6" x2="901.4" y2="3163.5" stroke="#0a0a0a" stroke-width="5.6" stroke-linecap="butt"/>
<polyline points="337.3,2617.6 337.3,2582.1 846.5,2582.1 846.5,2863.1" fill="none" stroke="#333" stroke-width="5.4" stroke-linejoin="round"/>
<polyline points="337.3,2660.2 337.3,2632.5 742.1,2632.5 742.1,2952.1" fill="none" stroke="#0a0a0a" stroke-width="5.4" stroke-linejoin="round"/>
<polyline points="337.3,2691.4 337.3,2672.2 542.6,2672.2 542.6,2919.3" fill="none" stroke="#0a0a0a" stroke-width="5.4" stroke-linejoin="round"/>
<text transform="translate(710.3,2557.5) scale(1,0.94) translate(0,37.75)" class="st">**</text>
<text transform="translate(585,2606.9) scale(1,0.94) translate(0,37.75)" class="st">**</text>
<text transform="translate(427.4,2653.9) scale(1,0.94) translate(0,37.75)" class="st">**</text>
<text x="857.6" y="2613.15" font-size="57">SW707</text>
<text x="166.1" y="2712.85" font-size="57">120</text>
<text x="193.8" y="2882.1" font-size="57">80</text>
<text x="193.55" y="3040.05" font-size="57">40</text>
<text x="222.6" y="3157.45" font-size="57">0</text>
<!-- A172 -->
<rect x="1122.85" y="2791.15" width="71.3" height="360.85" fill="#fff" stroke="#0a0a0a" stroke-width="5.3"/>
<rect x="1218.85" y="2749.15" width="70.5" height="402.85" fill="#fff" stroke="#0a0a0a" stroke-width="5.3"/>
<rect x="1327.2" y="2771" width="67.4" height="381" fill="#0a0a0a"/>
<rect x="1420.2" y="2743.8" width="71.3" height="408.2" fill="#0a0a0a"/>
<rect x="1420.2" y="3152" width="71.3" height="4.5" fill="#3a3a3a"/>
<rect x="1522.2" y="2953.6" width="68.6" height="198.4" fill="#0a0a0a"/>
<rect x="1630.6" y="2869.1" width="69" height="282.9" fill="#0a0a0a"/>
<line x1="1157.4" y1="2727.6" x2="1157.4" y2="2792.3" stroke="#0a0a0a" stroke-width="5.6" stroke-linecap="butt"/>
<line x1="1147.86" y1="2730.25" x2="1166.94" y2="2730.25" stroke="#0a0a0a" stroke-width="5.3" stroke-linecap="butt"/>
<line x1="1254.3" y1="2683.4" x2="1254.3" y2="2750.3" stroke="#0a0a0a" stroke-width="5.6" stroke-linecap="butt"/>
<line x1="1244.76" y1="2686.05" x2="1263.84" y2="2686.05" stroke="#0a0a0a" stroke-width="5.3" stroke-linecap="butt"/>
<line x1="1360.3" y1="2713.4" x2="1360.3" y2="2773" stroke="#0a0a0a" stroke-width="5.6" stroke-linecap="butt"/>
<line x1="1350.19" y1="2716.05" x2="1370.41" y2="2716.05" stroke="#0a0a0a" stroke-width="5.3" stroke-linecap="butt"/>
<line x1="1456.7" y1="2686.8" x2="1456.7" y2="2745.8" stroke="#0a0a0a" stroke-width="5.6" stroke-linecap="butt"/>
<line x1="1447.45" y1="2689.45" x2="1465.95" y2="2689.45" stroke="#0a0a0a" stroke-width="5.3" stroke-linecap="butt"/>
<line x1="1556" y1="2933.4" x2="1556" y2="2955.6" stroke="#0a0a0a" stroke-width="5.6" stroke-linecap="butt"/>
<line x1="1546.18" y1="2936.05" x2="1565.82" y2="2936.05" stroke="#0a0a0a" stroke-width="5.3" stroke-linecap="butt"/>
<line x1="1664.8" y1="2839.3" x2="1664.8" y2="2871.1" stroke="#0a0a0a" stroke-width="5.6" stroke-linecap="butt"/>
<line x1="1654.69" y1="2841.95" x2="1674.91" y2="2841.95" stroke="#0a0a0a" stroke-width="5.3" stroke-linecap="butt"/>
<line x1="1104.6" y1="2687.5" x2="1104.6" y2="3170.3" stroke="#0a0a0a" stroke-width="5.6" stroke-linecap="butt"/>
<line x1="1068.3" y1="3152" x2="1718.6" y2="3152" stroke="#0a0a0a" stroke-width="5.6" stroke-linecap="butt"/>
<line x1="1085.4" y1="2690" x2="1104.6" y2="2690" stroke="#0a0a0a" stroke-width="5.6" stroke-linecap="butt"/>
<line x1="1076.9" y1="2794.8" x2="1104.6" y2="2794.8" stroke="#0a0a0a" stroke-width="5.6" stroke-linecap="butt"/>
<line x1="1076.9" y1="2868.5" x2="1104.6" y2="2868.5" stroke="#0a0a0a" stroke-width="5.6" stroke-linecap="butt"/>
<line x1="1076.9" y1="2953" x2="1104.6" y2="2953" stroke="#0a0a0a" stroke-width="5.6" stroke-linecap="butt"/>
<line x1="1076.9" y1="3030.7" x2="1104.6" y2="3030.7" stroke="#0a0a0a" stroke-width="5.6" stroke-linecap="butt"/>
<line x1="1196.5" y1="3152" x2="1196.5" y2="3171.5" stroke="#0a0a0a" stroke-width="5.6" stroke-linecap="butt"/>
<line x1="1298" y1="3152" x2="1298" y2="3171.5" stroke="#0a0a0a" stroke-width="5.6" stroke-linecap="butt"/>
<line x1="1403.4" y1="3152" x2="1403.4" y2="3171.5" stroke="#0a0a0a" stroke-width="5.6" stroke-linecap="butt"/>
<line x1="1505" y1="3152" x2="1505" y2="3171.5" stroke="#0a0a0a" stroke-width="5.6" stroke-linecap="butt"/>
<line x1="1609.8" y1="3152" x2="1609.8" y2="3171.5" stroke="#0a0a0a" stroke-width="5.6" stroke-linecap="butt"/>
<line x1="1714.7" y1="3152" x2="1714.7" y2="3171.5" stroke="#0a0a0a" stroke-width="5.6" stroke-linecap="butt"/>
<polyline points="1156.2,2665.8 1156.2,2618.4 1666.5,2618.4 1666.5,2814.4" fill="none" stroke="#0a0a0a" stroke-width="5.4" stroke-linejoin="round"/>
<polyline points="1157.4,2705.5 1157.4,2675.6 1553.1,2675.6 1553.1,2905.1" fill="none" stroke="#0a0a0a" stroke-width="5.4" stroke-linejoin="round"/>
<text transform="translate(1419.2,2594.4) scale(1,0.94) translate(0,37.75)" class="st">**</text>
<text transform="translate(1280.9,2648.2) scale(1,0.94) translate(0,37.75)" class="st">**</text>
<text x="1711.35" y="2673.35" font-size="57">A172</text>
<!-- x labels -->
<text transform="translate(302.8,3250) rotate(-45)" font-size="57.5">CO</text>
<text transform="translate(359.75,3299.85) rotate(-45)" font-size="57.5">DMSO</text>
<text transform="translate(468.1,3306.8) rotate(-45)" font-size="57.5">SF102</text>
<text transform="translate(567.5,3306.85) rotate(-45)" font-size="57.5">SF134</text>
<text transform="translate(666.5,3306.8) rotate(-45)" font-size="57.5">SF102</text>
<text transform="translate(766,3306.85) rotate(-45)" font-size="57.5">SF134</text>
<text transform="translate(1096.35,3251.3) rotate(-45)" font-size="57.5">CO</text>
<text transform="translate(1154.25,3299.35) rotate(-45)" font-size="57.5">DMSO</text>
<text transform="translate(1263.15,3306.8) rotate(-45)" font-size="57.5">SF102</text>
<text transform="translate(1362,3306.85) rotate(-45)" font-size="57.5">SF134</text>
<text transform="translate(1461.1,3306.8) rotate(-45)" font-size="57.5">SF102</text>
<text transform="translate(1560.05,3306.85) rotate(-45)" font-size="57.5">SF134</text>
<polyline points="466.7,3318.4 466.7,3348.2 600.7,3348.2 600.7,3318.4" fill="none" stroke="#0a0a0a" stroke-width="4.6" stroke-linejoin="round"/>
<polyline points="667.6,3318.4 667.6,3348.2 800.6,3348.2 800.6,3318.4" fill="none" stroke="#0a0a0a" stroke-width="4.6" stroke-linejoin="round"/>
<polyline points="1265.7,3318.4 1265.7,3348.2 1399.7,3348.2 1399.7,3318.4" fill="none" stroke="#0a0a0a" stroke-width="4.6" stroke-linejoin="round"/>
<polyline points="1466.7,3318.4 1466.7,3348.2 1600.6,3348.2 1600.6,3318.4" fill="none" stroke="#0a0a0a" stroke-width="4.6" stroke-linejoin="round"/>
<text x="453.2" y="3414.5" font-size="57">10 µM</text>
<text x="683.15" y="3414.5" font-size="57">30 µM</text>
<text x="1237.35" y="3414.5" font-size="57">10 µM</text>
<text x="1468.2" y="3414.5" font-size="57">30 µM</text>
<text transform="translate(94.35,1966.65) rotate(-90)" font-size="57">Viability (CO=100%)</text>
<line x1="116.3" y1="194" x2="136.4" y2="3221" stroke="#0a0a0a" stroke-width="6" stroke-linecap="butt"/>
<polygon points="116.2,114 95.4,196 137,196" fill="#0a0a0a"/>
</svg>
</body></html>
